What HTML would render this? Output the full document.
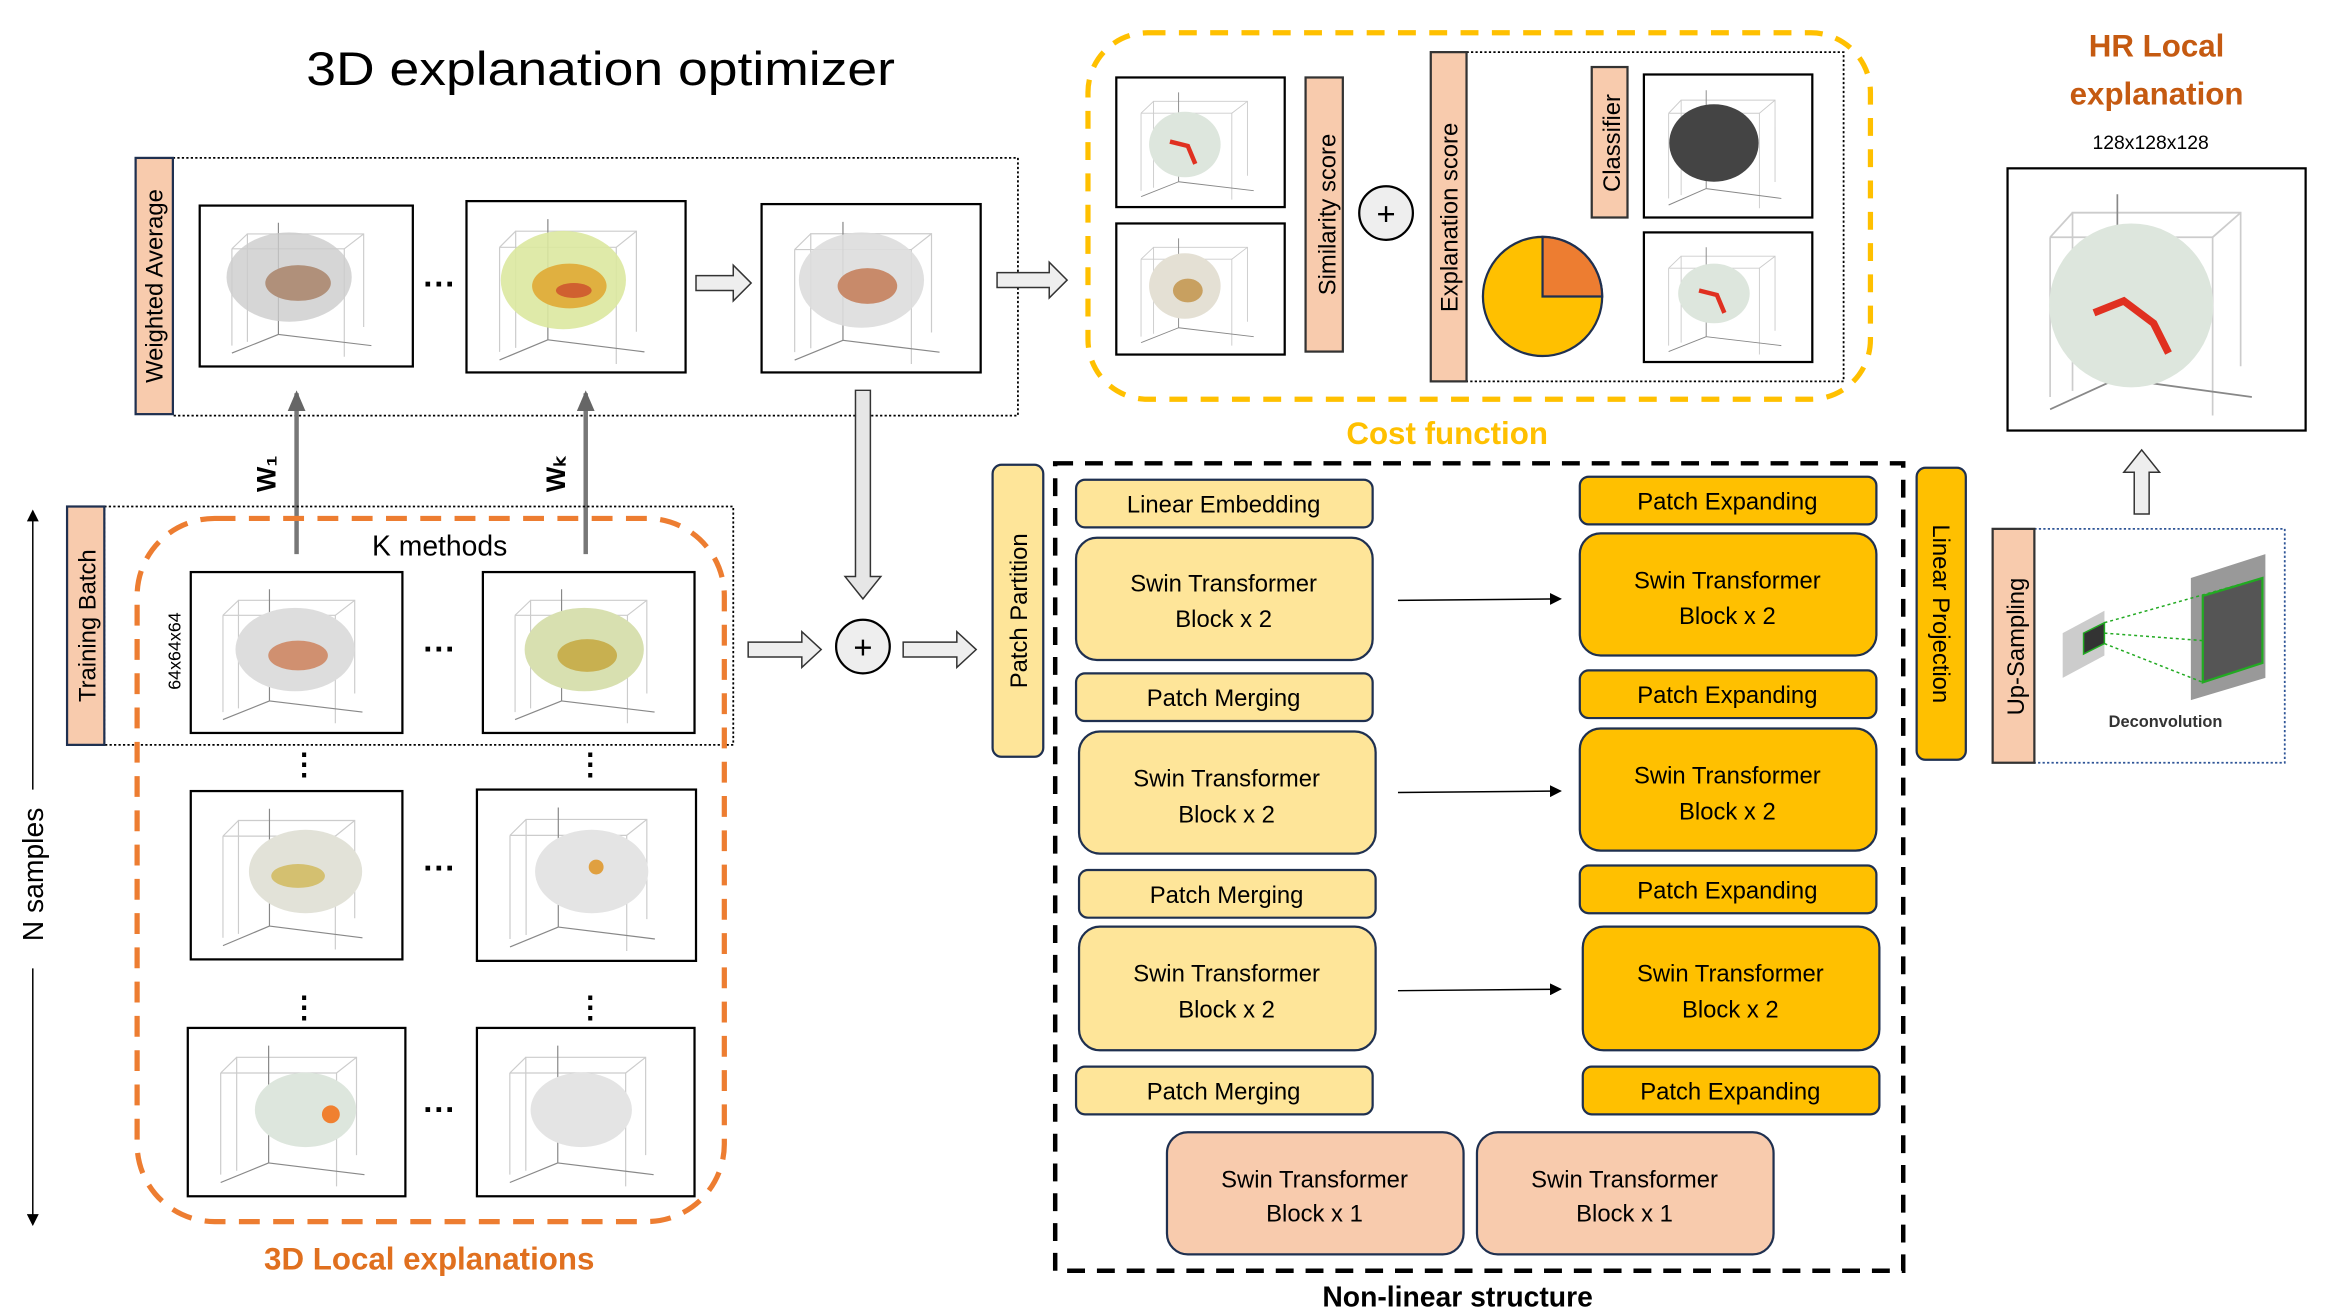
<!DOCTYPE html>
<html><head><meta charset="utf-8"><style>html,body{margin:0;padding:0;background:#fff;}svg{display:block}</style></head>
<body>
<svg width="2325" height="1308" viewBox="0 0 1560 878" preserveAspectRatio="none" xmlns="http://www.w3.org/2000/svg" font-family="Liberation Sans, sans-serif">
<defs>
<symbol id="cube" viewBox="0 0 100 80" preserveAspectRatio="none">
<g fill="none" stroke="#ccc" stroke-width="0.6">
<polyline points="20,70 20,12 80,12 80,62"/><polyline points="12,20 70,20 70,78"/><line x1="12" y1="20" x2="12" y2="72"/>
<line x1="12" y1="20" x2="20" y2="12"/><line x1="70" y1="20" x2="80" y2="12"/></g>
<line x1="36" y1="6" x2="36" y2="66" stroke="#888" stroke-width="0.6"/><line x1="36" y1="66" x2="12" y2="76" stroke="#888" stroke-width="0.6"/><line x1="36" y1="66" x2="84" y2="72" stroke="#888" stroke-width="0.6"/>
</symbol>
<marker id="ah" markerWidth="8" markerHeight="8" refX="7" refY="4" orient="auto" markerUnits="userSpaceOnUse"><path d="M0,0 L8,4 L0,8z" fill="#000"/></marker>
<marker id="gh" markerWidth="14" markerHeight="12" refX="12" refY="6" orient="auto" markerUnits="userSpaceOnUse"><path d="M0,0 L14,6 L0,12z" fill="#666"/></marker>
</defs>

<text x="403" y="57" font-size="32" text-anchor="middle" textLength="395" lengthAdjust="spacingAndGlyphs">3D explanation optimizer</text>

<!-- weighted average -->
<rect x="116" y="106" width="567" height="173" fill="none" stroke="#000" stroke-dasharray="1.5,1.5" stroke-width="1.2"/>
<rect x="91" y="106" width="25" height="172" fill="#f8cbad" stroke="#1f3050" stroke-width="1.5"/>
<text transform="translate(109,192) rotate(-90)" font-size="16" text-anchor="middle">Weighted Average</text>
<g stroke="#000" stroke-width="1.5" fill="#fff">
<rect x="134" y="138" width="143" height="108"/><rect x="313" y="135" width="147" height="115"/><rect x="511" y="137" width="147" height="113"/></g>
<use href="#cube" x="140" y="142" width="130" height="100"/><use href="#cube" x="319" y="139" width="135" height="108"/><use href="#cube" x="517" y="141" width="135" height="106"/>
<ellipse cx="194" cy="186" rx="42" ry="30" fill="#ccc" opacity="0.8"/><ellipse cx="200" cy="190" rx="22" ry="12" fill="#b0907a"/>
<ellipse cx="378" cy="188" rx="42" ry="33" fill="#dbe8a0" opacity="0.9"/><ellipse cx="382" cy="192" rx="25" ry="15" fill="#e0b040"/><ellipse cx="385" cy="195" rx="12" ry="5" fill="#d06030"/>
<ellipse cx="578" cy="188" rx="42" ry="32" fill="#ddd" opacity="0.9"/><ellipse cx="582" cy="192" rx="20" ry="12" fill="#c88a6a"/>
<text x="295" y="198" font-size="22" text-anchor="middle" font-weight="bold">···</text>
<path d="M467,185 h25 v-7 l12,12 -12,12 v-7 h-25z" fill="#eee" stroke="#333"/>
<path d="M669,183 h35 v-7 l12,12 -12,12 v-7 h-35z" fill="#eee" stroke="#333"/>

<!-- weight arrows -->
<line x1="199" y1="372" x2="199" y2="264" stroke="#777" stroke-width="3" marker-end="url(#gh)"/>
<line x1="393" y1="372" x2="393" y2="264" stroke="#777" stroke-width="3" marker-end="url(#gh)"/>
<text transform="translate(185,318) rotate(-90)" font-size="18" font-weight="bold" text-anchor="middle">W₁</text>
<text transform="translate(379,318) rotate(-90)" font-size="18" font-weight="bold" text-anchor="middle">Wₖ</text>
<path d="M574,262 h10 v125 h7 l-12,15 -12,-15 h7z" fill="#e6e6e6" stroke="#333"/>

<!-- training batch -->
<rect x="70" y="340" width="422" height="160" fill="none" stroke="#000" stroke-dasharray="1.5,1.5" stroke-width="1.2"/>
<rect x="45" y="340" width="25" height="160" fill="#f8cbad" stroke="#1f3050" stroke-width="1.5"/>
<text transform="translate(64,420) rotate(-90)" font-size="16" text-anchor="middle">Training Batch</text>
<rect x="92" y="348" width="394" height="472" rx="52" fill="none" stroke="#ed7d31" stroke-width="3.5" stroke-dasharray="14,9"/>
<text x="295" y="373" font-size="19" text-anchor="middle">K methods</text>
<text transform="translate(121,437) rotate(-90)" font-size="12" text-anchor="middle">64x64x64</text>
<g stroke="#000" stroke-width="1.5" fill="#fff">
<rect x="128" y="384" width="142" height="108"/><rect x="324" y="384" width="142" height="108"/>
<rect x="128" y="531" width="142" height="113"/><rect x="320" y="530" width="147" height="115"/>
<rect x="126" y="690" width="146" height="113"/><rect x="320" y="690" width="146" height="113"/></g>
<use href="#cube" x="134" y="388" width="130" height="100"/><use href="#cube" x="330" y="388" width="130" height="100"/>
<use href="#cube" x="134" y="535" width="130" height="105"/><use href="#cube" x="326" y="534" width="135" height="107"/>
<use href="#cube" x="132" y="694" width="134" height="105"/><use href="#cube" x="326" y="694" width="134" height="105"/>
<ellipse cx="198" cy="436" rx="40" ry="28" fill="#ddd"/><ellipse cx="200" cy="440" rx="20" ry="10" fill="#d09070"/>
<ellipse cx="392" cy="436" rx="40" ry="28" fill="#d8e0b0"/><ellipse cx="394" cy="440" rx="20" ry="11" fill="#c8b050"/>
<ellipse cx="205" cy="585" rx="38" ry="28" fill="#e2e2d8"/><ellipse cx="200" cy="588" rx="18" ry="8" fill="#d4c070"/>
<ellipse cx="397" cy="585" rx="38" ry="28" fill="#e4e4e4"/><circle cx="400" cy="582" r="5" fill="#e0a040"/>
<ellipse cx="205" cy="745" rx="34" ry="25" fill="#dde6dd"/><circle cx="222" cy="748" r="6" fill="#f08030"/>
<ellipse cx="390" cy="745" rx="34" ry="25" fill="#e4e4e4"/>
<g font-size="22" font-weight="bold" text-anchor="middle"><text x="295" y="443">···</text><text x="295" y="590">···</text><text x="295" y="752">···</text></g>
<g font-size="20" font-weight="bold" text-anchor="middle"><text x="204" y="520">⋮</text><text x="396" y="520">⋮</text><text x="204" y="683">⋮</text><text x="396" y="683">⋮</text></g>
<line x1="22" y1="530" x2="22" y2="343" stroke="#000" marker-end="url(#ah)"/>
<line x1="22" y1="650" x2="22" y2="822" stroke="#000" marker-end="url(#ah)"/>
<text transform="translate(29,587) rotate(-90)" font-size="19" text-anchor="middle">N samples</text>
<text x="288" y="852" font-size="21" font-weight="bold" fill="#e0701f" text-anchor="middle">3D Local explanations</text>

<path d="M502,431 h36 v-7 l13,12 -13,12 v-7 h-36z" fill="#eee" stroke="#333"/>
<circle cx="579" cy="434" r="18" fill="#eee" stroke="#000" stroke-width="1.5"/><text x="579" y="442" font-size="22" text-anchor="middle">+</text>
<path d="M606,431 h36 v-7 l13,12 -13,12 v-7 h-36z" fill="#eee" stroke="#333"/>

<!-- patch partition -->
<rect x="666" y="312" width="34" height="196" rx="6" fill="#fee599" stroke="#1f3050" stroke-width="1.5"/>
<text transform="translate(689,410) rotate(-90)" font-size="16" text-anchor="middle">Patch Partition</text>

<rect x="708" y="311" width="569" height="542" fill="none" stroke="#000" stroke-width="3" stroke-dasharray="12,8"/>
<g stroke="#1f3050" stroke-width="1.5">
<g fill="#fee599">
<rect x="722" y="322" width="199" height="32" rx="6"/><rect x="722" y="361" width="199" height="82" rx="14"/>
<rect x="722" y="452" width="199" height="32" rx="6"/><rect x="724" y="491" width="199" height="82" rx="14"/>
<rect x="724" y="584" width="199" height="32" rx="6"/><rect x="724" y="622" width="199" height="83" rx="14"/>
<rect x="722" y="716" width="199" height="32" rx="6"/></g>
<g fill="#ffc000">
<rect x="1060" y="320" width="199" height="32" rx="6"/><rect x="1060" y="358" width="199" height="82" rx="14"/>
<rect x="1060" y="450" width="199" height="32" rx="6"/><rect x="1060" y="489" width="199" height="82" rx="14"/>
<rect x="1060" y="581" width="199" height="32" rx="6"/><rect x="1062" y="622" width="199" height="83" rx="14"/>
<rect x="1062" y="716" width="199" height="32" rx="6"/></g>
<g fill="#f8cbad"><rect x="783" y="760" width="199" height="82" rx="14"/><rect x="991" y="760" width="199" height="82" rx="14"/></g>
</g>
<g font-size="16" text-anchor="middle">
<text x="821" y="344">Linear Embedding</text>
<text x="821" y="397">Swin Transformer</text><text x="821" y="421">Block x 2</text>
<text x="821" y="474">Patch Merging</text>
<text x="823" y="528">Swin Transformer</text><text x="823" y="552">Block x 2</text>
<text x="823" y="606">Patch Merging</text>
<text x="823" y="659">Swin Transformer</text><text x="823" y="683">Block x 2</text>
<text x="821" y="738">Patch Merging</text>
<text x="1159" y="342">Patch Expanding</text>
<text x="1159" y="395">Swin Transformer</text><text x="1159" y="419">Block x 2</text>
<text x="1159" y="472">Patch Expanding</text>
<text x="1159" y="526">Swin Transformer</text><text x="1159" y="550">Block x 2</text>
<text x="1159" y="603">Patch Expanding</text>
<text x="1161" y="659">Swin Transformer</text><text x="1161" y="683">Block x 2</text>
<text x="1161" y="738">Patch Expanding</text>
<text x="882" y="797">Swin Transformer</text><text x="882" y="820">Block x 1</text>
<text x="1090" y="797">Swin Transformer</text><text x="1090" y="820">Block x 1</text>
</g>
<g stroke="#000" marker-end="url(#ah)"><line x1="938" y1="403" x2="1047" y2="402"/><line x1="938" y1="532" x2="1047" y2="531"/><line x1="938" y1="665" x2="1047" y2="664"/></g>
<text x="978" y="877" font-size="19" font-weight="bold" text-anchor="middle">Non-linear structure</text>

<rect x="1286" y="314" width="33" height="196" rx="6" fill="#ffc000" stroke="#1f3050" stroke-width="1.5"/>
<text transform="translate(1297,412) rotate(90)" font-size="16" text-anchor="middle">Linear Projection</text>

<!-- up-sampling -->
<rect x="1365" y="355" width="168" height="157" fill="none" stroke="#2f5597" stroke-dasharray="1.5,1.5" stroke-width="1.2"/>
<rect x="1337" y="355" width="28" height="157" fill="#f8cbad" stroke="#333" stroke-width="1.5"/>
<text transform="translate(1358,434) rotate(-90)" font-size="16" text-anchor="middle">Up-Sampling</text>
<polygon points="1384,425 1412,410 1412,440 1384,455" fill="#ccc"/>
<polygon points="1398,425 1412,418 1412,432 1398,439" fill="#333" stroke="#2a2" />
<polygon points="1470,388 1520,372 1520,455 1470,470" fill="#999"/>
<polygon points="1478,400 1518,388 1518,445 1478,458" fill="#555" stroke="#2a2" stroke-width="1.5"/>
<g stroke="#2a2" stroke-dasharray="2,2"><line x1="1412" y1="418" x2="1518" y2="388"/><line x1="1412" y1="432" x2="1478" y2="458"/><line x1="1412" y1="425" x2="1478" y2="430"/></g>
<text x="1453" y="488" font-size="11" font-weight="bold" fill="#333" text-anchor="middle">Deconvolution</text>
<path d="M1432,345 v-28 h-7 l12,-15 12,15 h-7 v28z" fill="#eee" stroke="#333"/>

<!-- HR -->
<text x="1447" y="38" font-size="21" font-weight="bold" fill="#c55a11" text-anchor="middle">HR Local</text>
<text x="1447" y="70" font-size="21" font-weight="bold" fill="#c55a11" text-anchor="middle">explanation</text>
<text x="1443" y="100" font-size="13" text-anchor="middle">128x128x128</text>
<rect x="1347" y="113" width="200" height="176" fill="#fff" stroke="#000" stroke-width="1.5"/>
<use href="#cube" x="1353" y="118" width="188" height="165"/>
<ellipse cx="1430" cy="205" rx="55" ry="55" fill="#dde6dd"/><path d="M1405,210 l20,-8 20,15 10,20" stroke="#e03020" stroke-width="5" fill="none"/>

<!-- cost function -->
<rect x="730" y="22" width="525" height="246" rx="40" fill="none" stroke="#ffc000" stroke-width="3.5" stroke-dasharray="12,9"/>
<rect x="984" y="35" width="253" height="221" fill="none" stroke="#000" stroke-dasharray="1.5,1.5" stroke-width="1.2"/>
<g stroke="#000" stroke-width="1.5" fill="#fff"><rect x="749" y="52" width="113" height="87"/><rect x="749" y="150" width="113" height="88"/>
<rect x="1103" y="50" width="113" height="96"/><rect x="1103" y="156" width="113" height="87"/></g>
<use href="#cube" x="753" y="56" width="105" height="80"/><use href="#cube" x="753" y="154" width="105" height="80"/>
<use href="#cube" x="1107" y="54" width="105" height="88"/><use href="#cube" x="1107" y="160" width="105" height="80"/>
<ellipse cx="795" cy="97" rx="24" ry="22" fill="#dde6dd"/><path d="M785,95 l12,3 5,12" stroke="#e03020" stroke-width="3" fill="none"/>
<ellipse cx="795" cy="192" rx="24" ry="22" fill="#e4e0d4"/><ellipse cx="797" cy="195" rx="10" ry="8" fill="#c8a060"/>
<ellipse cx="1150" cy="96" rx="30" ry="26" fill="#444"/>
<ellipse cx="1150" cy="197" rx="24" ry="20" fill="#dde6dd"/><path d="M1140,195 l12,3 5,12" stroke="#e03020" stroke-width="3" fill="none"/>
<rect x="876" y="52" width="25" height="184" fill="#f8cbad" stroke="#333" stroke-width="1.5"/>
<text transform="translate(896,144) rotate(-90)" font-size="16" text-anchor="middle">Similarity  score</text>
<circle cx="930" cy="143" r="18" fill="#eee" stroke="#000" stroke-width="1.5"/><text x="930" y="151" font-size="22" text-anchor="middle">+</text>
<rect x="960" y="35" width="24" height="221" fill="#f8cbad" stroke="#333" stroke-width="1.5"/>
<text transform="translate(978,146) rotate(-90)" font-size="16" text-anchor="middle">Explanation score</text>
<circle cx="1035" cy="199" r="40" fill="#ffc000" stroke="#1f3050" stroke-width="1.5"/>
<path d="M1035,199 V159 A40,40 0 0 1 1075,199z" fill="#ed7d31" stroke="#1f3050" stroke-width="1.5"/>
<rect x="1068" y="45" width="24" height="101" fill="#f8cbad" stroke="#333" stroke-width="1.5"/>
<text transform="translate(1087,96) rotate(-90)" font-size="16" text-anchor="middle">Classifier</text>
<text x="971" y="298" font-size="21" font-weight="bold" fill="#ffc000" text-anchor="middle">Cost function</text>
</svg>
</body></html>
